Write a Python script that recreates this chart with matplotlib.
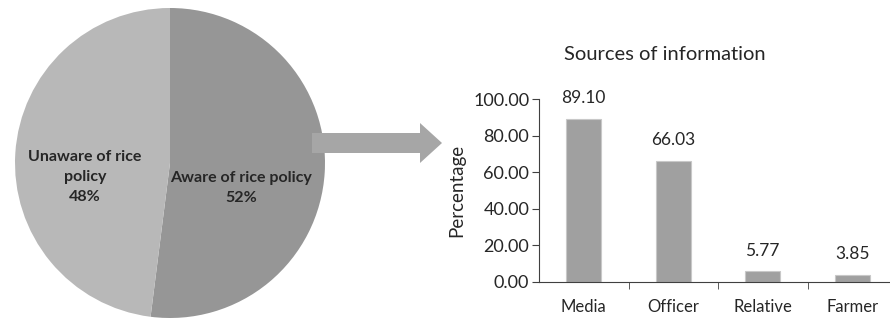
import matplotlib
matplotlib.use('Agg')
import matplotlib.pyplot as plt
from matplotlib.patches import Polygon

# data
pie_labels = ['Aware of rice policy', 'Unaware of rice\npolicy']
pie_values = [52, 48]
sources = ['Media', 'Officer', 'Relative', 'Farmer']
percent = [89.10, 66.03, 5.77, 3.85]
yticks = [0, 20, 40, 60, 80, 100]

W, H = 890, 320
plt.rcParams['font.family'] = ['Lato', 'DejaVu Sans']
txt = '#262626'

fig = plt.figure(figsize=(W / 100, H / 100), dpi=100)
fig.patch.set_facecolor('white')

# pie on the left
ax1 = fig.add_axes([15 / W, 2 / H, 310 / W, 310 / H])
wedges, _ = ax1.pie(pie_values, startangle=90, counterclock=False,
                    colors=['#969696', '#b8b8b8'],
                    wedgeprops={'linewidth': 0})
ax1.set_xlim(-1, 1)
ax1.set_ylim(-1, 1)
ax1.axis('off')
label_pos = [(0.46, -0.16), (-0.55, -0.09)]
for lab, val, (lx, ly) in zip(pie_labels, pie_values, label_pos):
    ax1.text(lx, ly, '%s\n%d%%' % (lab, val), ha='center', va='center',
             multialignment='center', fontsize=11.5, fontweight='bold',
             color=txt, linespacing=1.55)

# arrow between the charts
pts = [(312, 133), (420, 133), (420, 123), (442, 143), (420, 163),
       (420, 153), (312, 153)]
fig.add_artist(Polygon([(x / W, 1 - y / H) for x, y in pts], closed=True,
                       transform=fig.transFigure, facecolor='#a6a6a6',
                       edgecolor='none', zorder=5))

# bar chart on the right
ax2 = fig.add_axes([539 / W, 38 / H, 358 / W, 183 / H])
x = range(len(sources))
ax2.bar(x, percent, width=0.39, color='#a0a0a0', edgecolor='#c8c8c8',
        linewidth=0.8)
for xi, v in zip(x, percent):
    ax2.text(xi, v + 7, '%.2f' % v, ha='center', va='bottom',
             fontsize=12.5, color=txt)
ax2.set_xlim(-0.5, 3.5)
ax2.set_ylim(0, 100)
ax2.set_yticks(yticks)
ax2.set_yticklabels(['%.2f' % t for t in yticks], fontsize=13, color=txt)
ax2.set_xticks(list(x))
ax2.set_xticklabels(sources, fontsize=12, color=txt)
ax2.set_xticks([0.5, 1.5, 2.5], minor=True)
ax2.tick_params(axis='x', which='major', length=0, pad=12)
ax2.tick_params(axis='x', which='minor', length=5, direction='out',
                color='#404040')
ax2.tick_params(axis='y', length=5, direction='out', color='#404040', pad=2)
for s in ['top', 'right']:
    ax2.spines[s].set_visible(False)
for s in ['left', 'bottom']:
    ax2.spines[s].set_color('#404040')
    ax2.spines[s].set_linewidth(0.8)
ax2.set_ylabel('Percentage', fontsize=13.5, color=txt, labelpad=6)
fig.text(665 / W, 1 - 55 / H, 'Sources of information', ha='center',
         va='center', fontsize=14.5, color=txt)

fig.savefig('out.png', dpi=100)
